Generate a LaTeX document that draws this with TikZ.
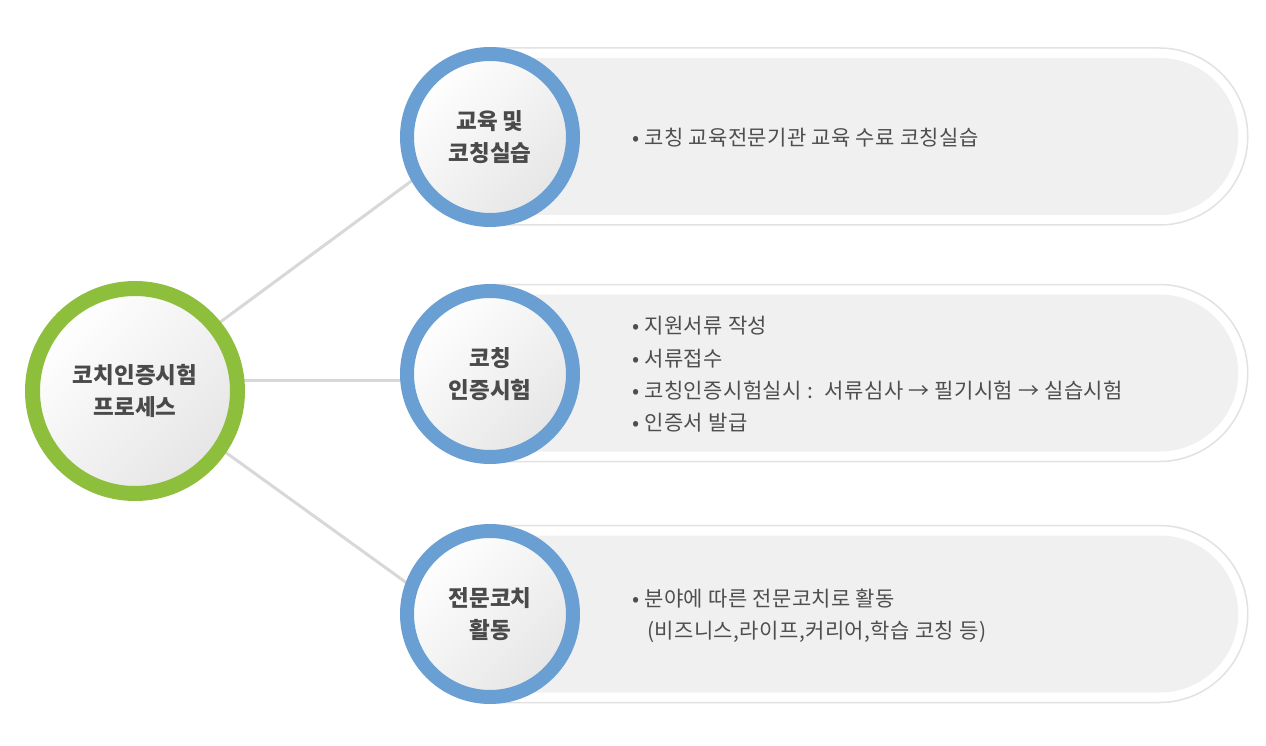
\documentclass[tikz,border=0pt]{standalone}
\usepackage{fontspec}
\newfontfamily\kr{Noto Sans CJK KR}
\newfontfamily\krb{Noto Sans CJK KR}[LetterSpace=2]
\usetikzlibrary{shapes.misc,backgrounds,calc}
\definecolor{ringblue}{HTML}{6A9FD4}
\definecolor{ringgreen}{HTML}{8DBE3C}
\definecolor{txtgray}{HTML}{4A4A4A}
\definecolor{bodygray}{HTML}{4E4E4E}
\definecolor{pillfill}{HTML}{F0F0F0}
\definecolor{pillline}{HTML}{E2E2E2}
\definecolor{connline}{HTML}{D8D8D8}
\tikzset{
  hub/.style={circle, inner sep=0pt, minimum size=205pt, line width=15pt, draw=ringgreen,
    top color=white, bottom color=black!10, shading angle=45,
    align=center, text=txtgray, font={\kr\bfseries\fontsize{22.5}{32}\selectfont}},
  stage/.style={circle, inner sep=0pt, minimum size=166pt, line width=14pt, draw=ringblue,
    top color=white, bottom color=black!10, shading angle=45,
    align=center, text=txtgray, font={\kr\bfseries\fontsize{22.5}{32}\selectfont}},
  pillout/.style={rounded rectangle, rounded rectangle left arc=none, inner sep=0pt,
    minimum width=757pt, minimum height=177pt, anchor=west, draw=pillline, line width=1.5pt, fill=white},
  pillin/.style={rounded rectangle, rounded rectangle left arc=none, inner sep=0pt,
    minimum width=748pt, minimum height=157pt, anchor=west, fill=pillfill},
  body/.style={anchor=west, align=left, inner sep=0pt, text=bodygray,
    font={\krb\fontsize{21}{32.3}\selectfont}},
  conn/.style={draw=connline, line width=3pt}
}
\begin{document}
\begin{tikzpicture}[x=1pt,y=-1pt]
\useasboundingbox (0,0) rectangle (1266,746);
% circles
\node[hub]   (c0) at (135,391) {코치인증시험\\프로세스};
\node[stage] (c1) at (490,137) {교육 및\\코칭실습};
\node[stage] (c2) at (490,374) {코칭\\인증시험};
\node[stage] (c3) at (490,614) {전문코치\\활동};
\begin{pgfonlayer}{background}
  \fill[white] (0,0) rectangle (1266,746);
  \node[pillout] (p1o) at (490,136.5) {};
  \node[pillin]  (p1i) at (490,136.5) {};
  \node[pillout] (p2o) at (490,373) {};
  \node[pillin]  (p2i) at (490,373) {};
  \node[pillout] (p3o) at (490,614) {};
  \node[pillin]  (p3i) at (490,614) {};
  \draw[conn] ($(c0.center)+(0,-6)$) -- ($(c1.center)+(0,-14)$);
  \draw[conn] ($(c0.center)+(0,-11)$) -- ($(c2.center)+(0,6)$);
  \draw[conn] ($(c0.center)+(0,-4)$) -- ($(c3.center)+(0,29)$);
\end{pgfonlayer}
% texts
\node[body] (t1) at (632,138) {• 코칭 교육전문기관 교육 수료 코칭실습};
\node[body] (t2) at (632,374.5) {• 지원서류 작성\\• 서류접수\\• 코칭인증시험실시 : \ 서류심사 → 필기시험 → 실습시험\\• 인증서 발급};
\node[body] (t3) at (632,616) {• 분야에 따른 전문코치로 활동\\\hspace*{15pt}(비즈니스,라이프,커리어,학습 코칭 등)};
\end{tikzpicture}
\end{document}
